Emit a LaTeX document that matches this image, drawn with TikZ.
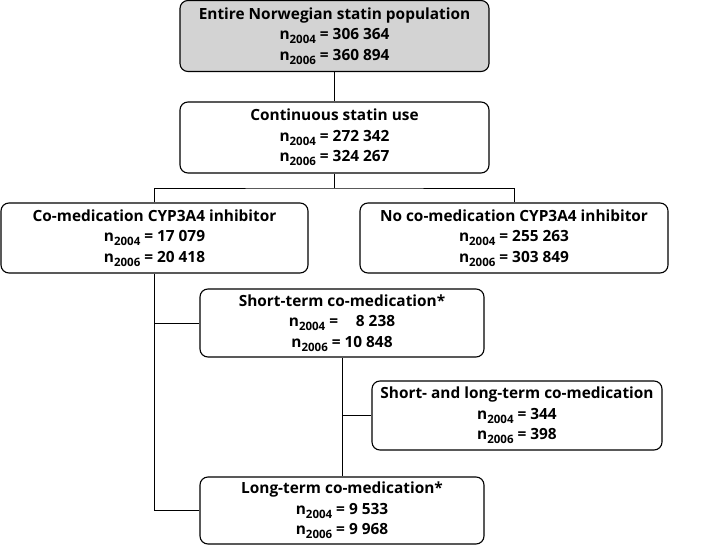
\documentclass[tikz,border=0pt]{standalone}
\usepackage{fontspec}
\setmainfont{Open Sans}[UprightFont=* Bold]
\usepackage{tikz}
\usetikzlibrary{positioning, calc}

\definecolor{boxgray}{RGB}{211,211,211}
\newcommand{\nyr}[1]{n\raisebox{-0.45ex}{\fontsize{11.5}{11.5}\selectfont #1}}

\begin{document}
\begin{tikzpicture}[x=1pt, y=-1pt,
    box/.style={rectangle, rounded corners=8pt, draw=black, line width=1.1pt, inner sep=0pt, align=center, font=\fontsize{15.4}{20.5}\selectfont},
    link/.style={draw=black, line width=0.9pt}
]
    \useasboundingbox (0,0) rectangle (708,545);

    \node[box, fill=boxgray, minimum width=309pt, minimum height=71pt] (entire) at (334.5,36) {Entire Norwegian statin population \\ \nyr{2004} = 306 364 \\ \nyr{2006} = 360 894};
    \node[box, minimum width=309pt, minimum height=71pt] (cont) at (334.5,137.5) {Continuous statin use \\ \nyr{2004} = 272 342 \\ \nyr{2006} = 324 267};
    \node[box, minimum width=307pt, minimum height=70pt] (comed) at (154.5,238) {Co-medication CYP3A4 inhibitor \\ \nyr{2004} = 17 079 \\ \nyr{2006} = 20 418};
    \node[box, minimum width=308pt, minimum height=70pt] (nocomed) at (514,238) {No co-medication CYP3A4 inhibitor \\ \nyr{2004} = 255 263 \\ \nyr{2006} = 303 849};
    \node[box, minimum width=284pt, minimum height=68pt] (shortt) at (342,323) {Short-term co-medication* \\ \nyr{2004} = \hspace{0.9em}8 238 \\ \nyr{2006} = 10 848};
    \node[box, minimum width=290pt, minimum height=69pt] (both) at (517,415.5) {Short- and long-term co-medication \\ \nyr{2004} = 344 \\ \nyr{2006} = 398};
    \node[box, minimum width=284pt, minimum height=67pt] (longt) at (342,510.5) {Long-term co-medication* \\ \nyr{2004} = 9 533 \\ \nyr{2006} = 9 968};

    \coordinate (split) at (334.5,188);

    \draw[link] (entire) -- (cont);
    \draw[link] (cont) -- (split);
    \draw[link] (comed.north) |- (split) -| (nocomed.north);
    \draw[link] (comed.south) |- (longt.west);
    \draw[link] (comed.south |- shortt.west) -- (shortt.west);
    \draw[link] (shortt) -- (longt);
    \draw[link] (shortt.south |- both.west) -- (both.west);
\end{tikzpicture}
\end{document}
